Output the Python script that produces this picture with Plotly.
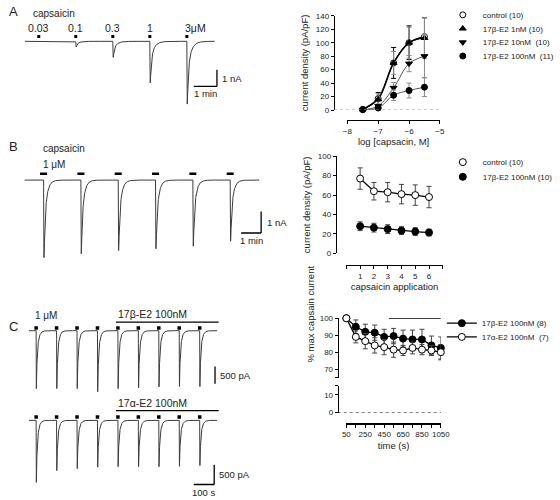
import numpy as np
import plotly.graph_objects as go

W, H = 560, 500
FONT = "Arial, Liberation Sans, sans-serif"
TXT = "#222222"
TRC = "#3c3c3c"
GREY = "#8a8a8a"

# ======================= DATA =======================
# Panel A - example trace (capsaicin concentration steps)
a_conc_labels = ["0.03", "0.1", "0.3", "1", "3μM"]
a_pulse_min = [1.0, 2.6, 4.2, 5.8, 7.4]
a_peak_nA = [0.04, 0.33, 0.96, 2.49, 3.76]
a_trace_span_min = [0.4, 8.6]

# Panel A - concentration/response
a_logc = [-7.5, -7.0, -6.5, -6.0, -5.5]
a_control = [1, 17, 70, 100, 109]
a_control_err = [1, 9, 23, 25, 28]
a_e2_1nM = [1, 16, 70, 100, 107]
a_e2_1nM_err = [1, 8, 17, 23, 30]
a_e2_10nM = [0.5, 6, 33, 69, 80]
a_e2_10nM_err = [1, 3, 8, 12, 32]
a_e2_100nM = [0.5, 3, 22, 29, 34]
a_e2_100nM_err = [1, 2, 8, 11, 14]

# Panel B - example trace (repeated 1 uM capsaicin)
b_pulse_min = [1.0, 2.87, 4.74, 6.61, 8.48, 10.35]
b_peak_nA = [3.59, 3.41, 3.26, 3.18, 3.06, 2.83]
b_trace_span_min = [0.05, 11.8]

# Panel B - current density vs application
b_app = [1, 2, 3, 4, 5, 6]
b_control = [77, 64, 63, 61, 60, 58]
b_control_err = [11, 9, 10, 10, 10.5, 11]
b_e2 = [28, 26.5, 25, 23.5, 22.5, 21.5]
b_e2_err = [4.5, 4.5, 4.5, 4, 4, 3.5]

# Panel C - example traces
c_pulse_s = [50, 150, 250, 350, 450, 550, 650, 750, 850]
c_beta_peak_pA = [1670, 1670, 1670, 1760, 1670, 1650, 1620, 1610, 1610]
c_alpha_peak_pA = [1580, 1280, 1230, 1190, 1180, 1180, 1180, 1170, 1150]
c_trace_span_s = [15, 935]
c_drug_span_s = [440, 943]

# Panel C - normalised current vs time
c_time = [50, 150, 250, 350, 450, 550, 650, 750, 850, 950, 1050]
c_beta = [100, 95, 92, 91.5, 89, 89.5, 88, 87.5, 87.5, 84, 82.5]
c_beta_err = [0, 4, 4.5, 4.5, 4.5, 4.5, 5, 5.5, 6, 5.5, 6.5]
c_alpha = [100, 89, 86.5, 84, 83, 81.5, 81, 82.5, 81.5, 81, 80]
c_alpha_err = [0, 3.5, 4.5, 4.5, 4.5, 4.5, 3, 3.5, 3, 3, 4.5]
c_bar_span = [500, 1050]


# ======================= HELPERS =======================
def dx(p0, p1):
    return [p0 / W, p1 / W]


def dy(top, bottom):
    return [1 - bottom / H, 1 - top / H]


def trace_axes(xpx, ypx, x0px, sx, base_px, sy):
    xr = [(xpx[0] - x0px) / sx, (xpx[1] - x0px) / sx]
    yr = [-(ypx[1] - base_px) / sy, (base_px - ypx[0]) / sy]
    xa = dict(domain=dx(*xpx), range=xr, visible=False, fixedrange=True)
    ya = dict(domain=dy(*ypx), range=yr, visible=False, fixedrange=True)
    return xa, ya


def waveform(span, pulses, peaks, tr, tf, ts, frac, n=9000):
    t = np.linspace(span[0], span[1], n)
    extra = np.concatenate([p + np.linspace(0, 6 * tr, 40) for p in pulses])
    t = np.unique(np.concatenate([t, extra]))
    g = np.linspace(0, 8 * ts, 40000)
    k = (1 - np.exp(-g / tr)) * (frac * np.exp(-g / tf) + (1 - frac) * np.exp(-g / ts))
    norm = k.max()
    y = np.zeros_like(t)
    for t0, amp in zip(pulses, peaks):
        d = t - t0
        m = d > 0
        y[m] -= amp * (1 - np.exp(-d[m] / tr)) * (
            frac * np.exp(-d[m] / tf) + (1 - frac) * np.exp(-d[m] / ts)) / norm
    return t, y


fig = go.Figure()
shapes = []
ann = []

# ======================= TRACE AXES =======================
xa1, ya1 = trace_axes((5, 245), (2, 115), 11, 24.0, 38, 17.0)
xa2, ya2 = trace_axes((10, 290), (138, 265), 19.3, 20.7, 179.3, 22.0)
xa3, ya3 = trace_axes((10, 245), (305, 400), 21.7, 0.212, 332.7, 0.0353)
xa4, ya4 = trace_axes((10, 245), (400, 500), 21.7, 0.212, 424, 0.04)

# Panel A trace
t, y = waveform(a_trace_span_min, a_pulse_min, a_peak_nA, 0.008, 0.04, 0.15, 0.65)
fig.add_trace(go.Scatter(x=t, y=y, xaxis="x", yaxis="y", mode="lines",
                         line=dict(color=TRC, width=1.0), showlegend=False, hoverinfo="skip"))
fig.add_trace(go.Scatter(x=a_pulse_min, y=[0.29] * len(a_pulse_min), xaxis="x", yaxis="y",
                         mode="markers", marker=dict(symbol="square", size=3, color="black"),
                         showlegend=False, hoverinfo="skip"))
for i, (tp, lab) in enumerate(zip(a_pulse_min, a_conc_labels)):
    last = i == len(a_conc_labels) - 1
    ann.append(dict(x=tp, y=0.82, xref="x", yref="y", text=lab, showarrow=False,
                    xanchor="left" if last else "center", xshift=-4 if last else 0,
                    font=dict(size=10.5, color=TXT)))
ann.append(dict(x=0.68, y=1.65, xref="x", yref="y", text="capsaicin", showarrow=False,
                xanchor="left", font=dict(size=10, color=TXT)))
shapes += [
    dict(type="line", xref="x", yref="y", x0=7.7, x1=8.7, y0=-2.7, y1=-2.7, line=dict(color="black", width=1.3)),
    dict(type="line", xref="x", yref="y", x0=8.7, x1=8.7, y0=-2.7, y1=-1.7, line=dict(color="black", width=1.3)),
]
ann += [
    dict(x=8.7, y=-2.2, xref="x", yref="y", text="1 nA", showarrow=False, xanchor="left", xshift=3,
         font=dict(size=9.5, color=TXT)),
    dict(x=8.2, y=-2.7, xref="x", yref="y", text="1 min", showarrow=False, yanchor="top",
         font=dict(size=9.5, color=TXT)),
]

# Panel B trace
t, y = waveform(b_trace_span_min, b_pulse_min, b_peak_nA, 0.01, 0.04, 0.13, 0.55)
fig.add_trace(go.Scatter(x=t, y=y, xaxis="x2", yaxis="y2", mode="lines",
                         line=dict(color=TRC, width=1.0), showlegend=False, hoverinfo="skip"))
fig.add_trace(go.Scatter(x=b_pulse_min, y=[0.29] * len(b_pulse_min), xaxis="x2", yaxis="y2",
                         mode="markers", marker=dict(symbol="line-ew", size=5,
                                                     line=dict(color="black", width=2.5)),
                         showlegend=False, hoverinfo="skip"))
ann += [
    dict(x=0.85, y=1.47, xref="x2", yref="y2", text="capsaicin", showarrow=False, xanchor="left",
         font=dict(size=10, color=TXT)),
    dict(x=0.85, y=0.74, xref="x2", yref="y2", text="1 μM", showarrow=False, xanchor="left",
         font=dict(size=10, color=TXT)),
    dict(x=11.9, y=-1.95, xref="x2", yref="y2", text="1 nA", showarrow=False, xanchor="left", xshift=4,
         font=dict(size=9.5, color=TXT)),
    dict(x=11.4, y=-2.45, xref="x2", yref="y2", text="1 min", showarrow=False, yanchor="top",
         font=dict(size=9.5, color=TXT)),
]
shapes += [
    dict(type="line", xref="x2", yref="y2", x0=10.9, x1=11.9, y0=-2.45, y1=-2.45, line=dict(color="black", width=1.3)),
    dict(type="line", xref="x2", yref="y2", x0=11.9, x1=11.9, y0=-2.45, y1=-1.45, line=dict(color="black", width=1.3)),
]

# Panel C traces
for xr_, yr_, peaks, stim_y, drug_y, drug_lab, sb_y0, sb_t in [
        ("x3", "y3", c_beta_peak_pA, 76, 246, "17β-E2 100nM", -1530, 925),
        ("x4", "y4", c_alpha_peak_pA, 83, 250, "17α-E2 100nM", -1633, 921)]:
    t, y = waveform(c_trace_span_s, c_pulse_s, peaks, 0.5, 2.0, 8.0, 0.55)
    fig.add_trace(go.Scatter(x=t, y=y, xaxis=xr_, yaxis=yr_, mode="lines",
                             line=dict(color=TRC, width=1.0), showlegend=False, hoverinfo="skip"))
    fig.add_trace(go.Scatter(x=c_pulse_s, y=[stim_y] * len(c_pulse_s), xaxis=xr_, yaxis=yr_,
                             mode="markers", marker=dict(symbol="square", size=3.5, color="black"),
                             showlegend=False, hoverinfo="skip"))
    shapes.append(dict(type="line", xref=xr_, yref=yr_, x0=c_drug_span_s[0], x1=c_drug_span_s[1],
                       y0=drug_y, y1=drug_y, line=dict(color="black", width=1.3)))
    ann.append(dict(x=c_drug_span_s[0], y=drug_y, xref=xr_, yref=yr_, text=drug_lab, showarrow=False,
                    xanchor="left", yanchor="bottom", yshift=0, font=dict(size=10.5, color=TXT)))
    shapes.append(dict(type="line", xref=xr_, yref=yr_, x0=sb_t, x1=sb_t, y0=sb_y0, y1=sb_y0 + 500,
                       line=dict(color="black", width=1.3)))
    ann.append(dict(x=sb_t, y=sb_y0 + 250, xref=xr_, yref=yr_, text="500 pA", showarrow=False,
                    xanchor="left", xshift=3, font=dict(size=9.5, color=TXT)))
shapes.append(dict(type="line", xref="x4", yref="y4", x0=821, x1=921, y0=-1633, y1=-1633,
                   line=dict(color="black", width=1.3)))
ann.append(dict(x=871, y=-1633, xref="x4", yref="y4", text="100 s", showarrow=False, yanchor="top",
                font=dict(size=9.5, color=TXT)))
ann.append(dict(x=34, y=445, xref="x3", yref="y3", text="1 μM", showarrow=False, xanchor="left",
                font=dict(size=10, color=TXT)))

# Panel letters
for lab, ypx in [("A", 8), ("B", 145), ("C", 328)]:
    ann.append(dict(x=2 / W, y=1 - ypx / H, xref="paper", yref="paper", text=lab, showarrow=False,
                    xanchor="left", yanchor="middle", font=dict(size=13, color=TXT)))

# ======================= GRAPH A =======================
def err(arr, col):
    return dict(type="data", array=arr, color=col, thickness=1, width=2.5)


for yv, col, w in [(a_control, "black", 1.6), (a_e2_1nM, "black", 1.0),
                   (a_e2_10nM, "#555555", 1.0), (a_e2_100nM, "#555555", 1.0)]:
    fig.add_trace(go.Scatter(x=a_logc, y=yv, xaxis="x5", yaxis="y5", mode="lines",
                             line=dict(color=col, width=w, shape="spline", smoothing=1.0),
                             showlegend=False, hoverinfo="skip"))
a_series = [
    ("control (10)", a_control, a_control_err, "circle", "white", "black", "legend"),
    ("17β-E2 1nM (10)", a_e2_1nM, a_e2_1nM_err, "triangle-up", "black", GREY, "legend2"),
    ("17β-E2 10nM  (10)", a_e2_10nM, a_e2_10nM_err, "triangle-down", "black", GREY, "legend3"),
    ("17β-E2 100nM  (11)", a_e2_100nM, a_e2_100nM_err, "circle", "black", GREY, "legend4"),
]
for name, yv, ev, sym, fill, ecol, lg in a_series:
    fig.add_trace(go.Scatter(x=a_logc, y=yv, xaxis="x5", yaxis="y5", mode="markers", name=name,
                             error_y=err(ev, ecol), cliponaxis=False, legend=lg,
                             marker=dict(symbol=sym, size=6, color=fill, line=dict(color="black", width=1))))
shapes.append(dict(type="line", xref="paper", yref="y5", x0=341 / W, x1=451 / W, y0=0, y1=0,
                   line=dict(color="#9a9a9a", width=1, dash="dot")))

# ======================= GRAPH B =======================
for yv in (b_control, b_e2):
    fig.add_trace(go.Scatter(x=b_app, y=yv, xaxis="x6", yaxis="y6", mode="lines",
                             line=dict(color="black", width=1.3), showlegend=False, hoverinfo="skip"))
for name, yv, ev, fill, lg in [("control (10)", b_control, b_control_err, "white", "legend5"),
                               ("17β-E2 100nM (10)", b_e2, b_e2_err, "black", "legend6")]:
    fig.add_trace(go.Scatter(x=b_app, y=yv, xaxis="x6", yaxis="y6", mode="markers", name=name,
                             error_y=err(ev, "#444444"), cliponaxis=False, legend=lg,
                             marker=dict(symbol="circle", size=7, color=fill,
                                         line=dict(color="black", width=1))))

# ======================= GRAPH C =======================
fig.add_trace(go.Scatter(x=c_bar_span, y=[100, 100], xaxis="x7", yaxis="y7", mode="lines",
                         line=dict(color="black", width=1.5), showlegend=False, hoverinfo="skip"))
for name, yv, ev, fill, lg in [("17β-E2 100nM (8)", c_beta, c_beta_err, "black", "legend7"),
                               ("17α-E2 100nM  (7)", c_alpha, c_alpha_err, "white", "legend8")]:
    fig.add_trace(go.Scatter(x=c_time, y=yv, xaxis="x7", yaxis="y7", mode="lines+markers", name=name,
                             error_y=err(ev, "#444444"), cliponaxis=False, legend=lg,
                             line=dict(color="black", width=1.3),
                             marker=dict(symbol="circle", size=7, color=fill,
                                         line=dict(color="black", width=1))))
shapes.append(dict(type="line", xref="paper", yref="y8", x0=345 / W, x1=452 / W, y0=0, y1=0,
                   line=dict(color="black", width=1.2, dash="dot")))
ann.append(dict(x=317 / W, y=1 - 367 / H, xref="paper", yref="paper", text="% max capsain current",
                textangle=-90, showarrow=False, font=dict(size=9.5, color=TXT)))

# ======================= LAYOUT =======================
tickfont = dict(size=8, color=TXT, family=FONT)
titlefont = dict(size=9.5, color=TXT, family=FONT)
common = dict(showgrid=False, zeroline=False, showline=True, linecolor="black", linewidth=1.2,
              ticks="outside", ticklen=3, tickwidth=1, tickcolor="black", tickfont=tickfont,
              fixedrange=True)
legfont = dict(size=8, color=TXT, family=FONT)


def leg(ypx, xpx=454):
    return dict(x=xpx / W, y=1 - ypx / H, xanchor="left", yanchor="middle", bgcolor="rgba(0,0,0,0)",
                font=legfont, itemwidth=30, tracegroupgap=0, borderwidth=0)


layout = dict(
    width=W, height=H, margin=dict(l=0, r=0, t=0, b=0),
    paper_bgcolor="white", plot_bgcolor="rgba(0,0,0,0)",
    font=dict(family=FONT, color=TXT),
    xaxis=xa1, yaxis=ya1, xaxis2=xa2, yaxis2=ya2, xaxis3=xa3, yaxis3=ya3, xaxis4=xa4, yaxis4=ya4,
    xaxis5=dict(common, domain=dx(355, 451), range=[-8, -5], anchor="free", position=1 - 118 / H,
                tickvals=[-8, -7, -6, -5],
                title=dict(text="log [capsacin, M]", font=titlefont, standoff=2)),
    yaxis5=dict(common, domain=dy(12, 108), range=[0, 140], anchor="free", position=341 / W,
                tickvals=list(range(0, 141, 20)),
                title=dict(text="current density (pA/pF)", font=titlefont, standoff=4)),
    xaxis6=dict(common, domain=dx(354, 454), range=[0, 7], anchor="free", position=1 - 266 / H,
                tickvals=list(range(0, 8)), ticktext=[""] + [str(i) for i in b_app] + [""],
                title=dict(text="capsaicin application", font=titlefont, standoff=2)),
    yaxis6=dict(common, domain=dy(155, 254), range=[0, 100], anchor="free", position=343 / W,
                tickvals=list(range(0, 101, 20)),
                title=dict(text="current density (pA/pF)", font=titlefont, standoff=4)),
    xaxis7=dict(common, domain=dx(354, 452), range=[50, 1050], anchor="free", position=1 - 427 / H,
                tickvals=list(range(50, 1051, 100)),
                ticktext=[str(v) if (v - 50) % 200 == 0 else "" for v in range(50, 1051, 100)],
                title=dict(text="time (s)", font=titlefont, standoff=4)),
    yaxis7=dict(common, domain=dy(320, 380.5), range=[65, 100], anchor="free", position=345 / W,
                tickvals=[65, 70, 80, 90, 100], ticktext=["", "70", "80", "90", "100"]),
    yaxis8=dict(common, domain=dy(389, 416), range=[0, 15], anchor="free", position=345 / W,
                tickvals=[0, 10, 15], ticktext=["0", "10", ""]),
    legend=leg(11), legend2=leg(25), legend3=leg(39), legend4=leg(53),
    legend5=leg(161), legend6=leg(176),
    legend7=leg(325, 453), legend8=leg(339, 453),
    shapes=shapes, annotations=ann, showlegend=True, hovermode=False,
)
fig.update_layout(layout)
fig.write_html("out.html", post_script="document.body.style.margin='0';",
               config={"displayModeBar": False, "staticPlot": True})
